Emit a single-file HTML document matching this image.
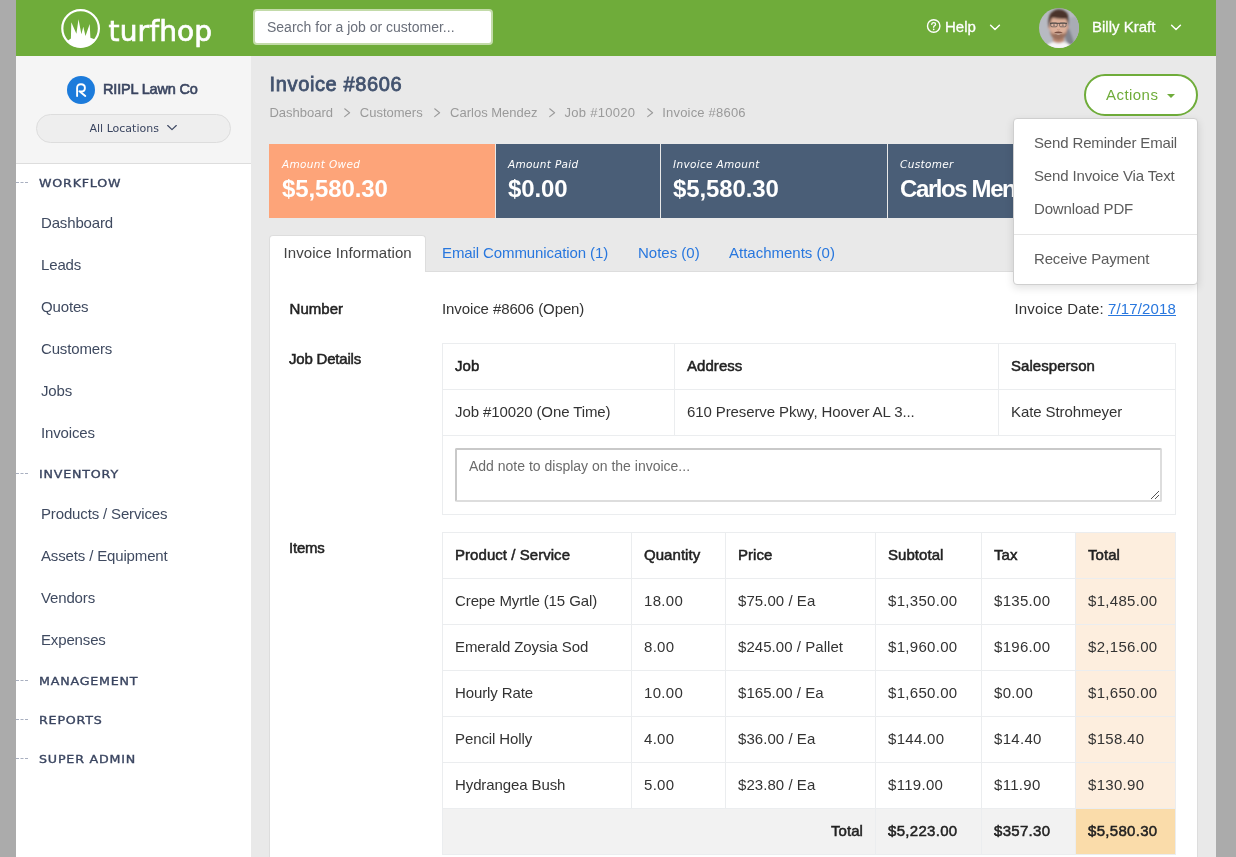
<!DOCTYPE html>
<html lang="en">
<head>
<meta charset="utf-8">
<title>Invoice #8606</title>
<style>
*{box-sizing:border-box;margin:0;padding:0}
html,body{width:1236px;height:857px;overflow:hidden;background:#ababab}
body{font-family:"Liberation Sans",sans-serif;font-size:15px;color:#333;position:relative}
.abs{position:absolute}
.t{position:absolute;white-space:nowrap;line-height:20px;height:20px}
#app{position:absolute;left:16px;top:0;width:1200px;height:857px;background:#e9e9e9;overflow:hidden}
#hdr{position:absolute;left:0;top:0;width:1200px;height:56px;background:#6fac3a}
#side{position:absolute;left:0;top:56px;width:235px;height:801px;background:#fff}
#side .top{position:absolute;left:0;top:0;width:235px;height:108px;background:#f5f5f5;border-bottom:1px solid #ddd}
.logo{font-family:"DejaVu Sans","Liberation Sans",sans-serif;font-size:28px;line-height:40px;height:40px;color:#fff;letter-spacing:0.15px;-webkit-text-stroke:0.7px #fff}
.search{left:237px;top:9px;width:240px;height:36px;background:#fff;border:2px solid #c3dba9;border-radius:4px;font-size:14px;color:#6a6f7a;line-height:32px;padding-left:12px}
.hl{color:#fff;font-size:15px;-webkit-text-stroke:0.3px #fff}
.rc{left:51px;top:20px;width:28px;height:28px;border-radius:14px;background:#1c7bdb}
.co{font-size:14.5px;color:#3a4560;-webkit-text-stroke:0.6px #3a4560;letter-spacing:-0.18px}
.pill{left:20px;top:58px;width:195px;height:29px;border-radius:15px;border:1px solid #ddd;background:#eee}
.loc{font-family:"DejaVu Sans","Liberation Sans",sans-serif;font-size:11px;color:#3a4560}
.sh{position:absolute;left:0;width:235px;height:39px;line-height:40px;padding-left:22.5px;font-family:"DejaVu Sans","Liberation Sans",sans-serif;font-size:11px;-webkit-text-stroke:0.35px #3a4560;letter-spacing:0.7px;color:#3a4560;white-space:nowrap}
.sh span{display:inline-block;transform:scaleX(1.15);transform-origin:0 50%}
.sh:before{content:"";position:absolute;left:0;top:18px;width:12px;border-top:1px dashed #a9b0c0}
.si{position:absolute;left:0;width:235px;height:42px;line-height:40px;padding-left:25px;font-size:15px;color:#3f4a60;letter-spacing:-0.15px;white-space:nowrap}
.h1{font-size:20px;color:#42526e;-webkit-text-stroke:0.8px #42526e;line-height:26px;height:26px;letter-spacing:0.63px}
.bc{font-size:13px;color:#9a9a9a}
.card{top:144px;height:74px;background:#4a5e77;color:#fff;padding:13px 0 0 12px;white-space:nowrap;overflow:hidden}
.card.or{background:#fda479;padding-left:13px}
.card em{display:block;font-family:"DejaVu Sans","Liberation Sans",sans-serif;font-style:italic;font-size:10.5px;line-height:14px;letter-spacing:0.33px}
.card b{display:block;font-size:24px;line-height:30px;margin-top:3px;letter-spacing:-0.1px}
.tabline{display:none}
.tab{left:253px;top:235px;width:157px;height:37px;z-index:2;background:#fff;border:1px solid #ddd;border-bottom:0;border-radius:4px 4px 0 0;color:#444;line-height:34px;padding-left:13.5px;letter-spacing:0.08px;white-space:nowrap}
.tl{color:#2877de}
.panel{left:253px;top:271px;width:929px;height:600px;background:#fff;border:1px solid #ddd}
.lb{color:#222;-webkit-text-stroke:0.5px #222;letter-spacing:-0.2px;font-size:15px}
.panel a{color:#2877de;text-decoration:underline}
table.tb{position:absolute;border-collapse:collapse;table-layout:fixed;width:733px}
.tb th,.tb td{border:1px solid #ebedef;height:46px;padding:0 0 2px 12px;text-align:left;vertical-align:middle;white-space:nowrap;color:#333;font-size:15px;letter-spacing:-0.1px}
.tb th{color:#222;font-weight:normal;-webkit-text-stroke:0.5px #222;letter-spacing:0.05px}
.tb td.n,.tb th.n{letter-spacing:0.3px}
.tb td.p{letter-spacing:0.05px}
.tb td.nt{height:79px;padding:0;vertical-align:top}
.ta{position:relative;margin:12px 0 0 12px;width:707px;height:54px;border:2px solid #c9c9c9;border-right-color:#ddd;border-bottom-color:#ddd;border-radius:2px;font-size:14px;color:#6b6b6b;padding:7px 0 0 12px;line-height:18px;letter-spacing:0}
.ta svg{position:absolute;right:0px;bottom:0px}
.tb .to{background:#fdeede}
.tb .ft th{background:#f2f2f2;padding-right:12px}
.tb .ft th.gt{background:#fadcaa}
.btn{left:1068px;top:74px;width:114px;height:42px;border:2px solid #6fac3a;border-radius:21px;background:#fff;color:#6fac3a;font-size:15px;letter-spacing:0.45px;line-height:37px;padding-left:20px;white-space:nowrap}
.btn i{position:absolute;left:81px;top:18px;border-left:4.5px solid transparent;border-right:4.5px solid transparent;border-top:4.5px solid #6fac3a}
.dd{left:997px;top:118px;width:185px;height:167px;background:#fff;border:1px solid #cfcfcf;border-radius:4px;box-shadow:0 3px 8px rgba(0,0,0,.12);color:#5c5c5c;letter-spacing:-0.15px}
</style>
</head>
<body>
<div id="app">
  <div id="hdr">
    <svg class="abs" style="left:0;top:0" width="240" height="56" viewBox="16 0 240 56">
      <circle cx="80.6" cy="28.5" r="18.3" fill="none" stroke="#fff" stroke-width="2.2"/>
      <path d="M66.7 41.46 L70.9 38.6 L71.3 22.2 L76.4 33.8 L78.5 19.3 L81.4 34.3 L83.3 26.8 L85.5 36.1 L89.7 23.9 L90.4 37.8 L95.97 39.67 A19 19 0 0 1 66.7 41.46 Z" fill="#fff"/>
    </svg>
    <div class="t logo" style="left:92.5px;top:12px">turfhop</div>
    <div class="abs search"><span>Search for a job or customer...</span></div>
    <svg class="abs" style="left:910px;top:18px" width="16" height="16" viewBox="0 0 16 16">
      <circle cx="7.7" cy="8" r="6.2" fill="none" stroke="#fff" stroke-width="1.4"/>
      <path d="M5.7 6.4 Q5.8 4.6 7.7 4.6 Q9.6 4.6 9.6 6.2 Q9.6 7.2 8.5 7.8 Q7.7 8.3 7.7 9.3" fill="none" stroke="#fff" stroke-width="1.3" stroke-linecap="round"/>
      <circle cx="7.7" cy="11.3" r="0.85" fill="#fff"/>
    </svg>
    <div class="t hl" style="left:929px;top:17px">Help</div>
    <svg class="abs" style="left:973px;top:23px" width="12" height="8" viewBox="0 0 12 8"><path d="M1.6 2.3 L6 6.5 L10.4 2.3" fill="none" stroke="#fff" stroke-width="1.5" stroke-linecap="round" stroke-linejoin="round"/></svg>
    <svg class="abs" style="left:1023px;top:8px" width="40" height="40" viewBox="0 0 40 40">
      <defs><clipPath id="avc"><circle cx="20" cy="20" r="20"/></clipPath><filter id="bl" x="-20%" y="-20%" width="140%" height="140%"><feGaussianBlur stdDeviation="0.8"/></filter><filter id="bl2" x="-20%" y="-20%" width="140%" height="140%"><feGaussianBlur stdDeviation="0.5"/></filter></defs>
      <g clip-path="url(#avc)">
        <rect width="40" height="40" fill="#b7bac2"/>
        <g filter="url(#bl)">
          <path d="M29 10 L41 8 L41 40 L31 40 Z" fill="#a9acb5"/>
          <path d="M27.5 16 Q31 22 33.5 30 L36 38 L29 36 L26 30 Z" fill="#80838d"/>
          <path d="M4 42 Q8 33.4 19.5 33.4 Q31 33.4 35 42 Z" fill="#f6f6f6"/>
          <path d="M14.4 27 L24.6 27 L25.2 33.6 Q19.5 37 13.8 33.6 Z" fill="#c08d76"/>
          <ellipse cx="19.4" cy="20" rx="8.9" ry="11.4" fill="#ddb09a"/>
          <rect x="10.6" y="8" width="17.7" height="12" fill="#ddb09a"/>
          <ellipse cx="10.3" cy="19" rx="1.2" ry="2.2" fill="#cf9d88"/>
          <ellipse cx="28.5" cy="19" rx="1.2" ry="2.2" fill="#cf9d88"/>
          <path d="M10.8 21.5 Q11.4 32 19.4 32.2 Q27.4 32 28 21.5 Q26.4 26.4 23 25.6 Q19.4 24.2 15.8 25.6 Q12.4 26.4 10.8 21.5 Z" fill="#9a705d"/>
          <path d="M9.8 19 Q7.6 6 15 2.4 Q22 -0.6 27.8 4.4 Q31 8.6 29 19 Q28.8 13.4 27.2 10.8 Q20 11.2 13.4 9.8 Q11 12.4 10.9 19 Z" fill="#49332a"/>
        </g>
        <g filter="url(#bl2)" opacity="0.85">
          <path d="M15 24.8 Q19.4 22.2 23.8 24.8 Q19.4 25.8 15 24.8 Z" fill="#6a4135"/>
          <path d="M16 25.2 Q19.4 28 22.8 25.2 Q19.4 26.2 16 25.2 Z" fill="#f1e4e0"/>
          <path d="M11 15.3 L28 15.3" stroke="#2d2d2f" stroke-width="1"/>
          <rect x="11.8" y="14.9" width="6.4" height="3.9" rx="1.2" fill="rgba(255,255,255,0.10)" stroke="#3a3a3c" stroke-width="0.7"/>
          <rect x="20.6" y="14.9" width="6.4" height="3.9" rx="1.2" fill="rgba(255,255,255,0.10)" stroke="#3a3a3c" stroke-width="0.7"/>
          <ellipse cx="15" cy="17" rx="1.1" ry="0.6" fill="#4a3a36"/>
          <ellipse cx="23.8" cy="17" rx="1.1" ry="0.6" fill="#4a3a36"/>
          <path d="M18.2 21.6 Q19.4 22.5 20.6 21.6" stroke="#b98672" stroke-width="0.8" fill="none"/>
        </g>
      </g>
    </svg>
    <div class="t hl" style="left:1076px;top:17px">Billy Kraft</div>
    <svg class="abs" style="left:1154px;top:23px" width="12" height="8" viewBox="0 0 12 8"><path d="M1.6 2.3 L6 6.5 L10.4 2.3" fill="none" stroke="#fff" stroke-width="1.5" stroke-linecap="round" stroke-linejoin="round"/></svg>
  </div>
  <div id="side"><div class="top"></div>
    <div class="abs rc"></div>
    <svg class="abs" style="left:58px;top:25px" width="16" height="18" viewBox="0 0 16 18"><path d="M3.1 15 V7.2 Q3.1 3.2 7 3.2 Q10.9 3.2 10.9 6.9 Q10.9 10.5 7 10.5 Q5.9 10.5 5.4 10.3 L11.3 15" fill="none" stroke="#fff" stroke-width="1.9" stroke-linecap="round" stroke-linejoin="round"/></svg>
    <div class="t co" style="left:87px;top:23px">RIIPL Lawn Co</div>
    <div class="abs pill"></div>
    <div class="t loc" style="left:73.5px;top:63px">All Locations</div>
    <svg class="abs" style="left:150px;top:68px" width="12" height="8" viewBox="0 0 12 8"><path d="M1.7 1.5 L6 5.7 L10.3 1.5" fill="none" stroke="#3a4560" stroke-width="1.1" stroke-linecap="round" stroke-linejoin="round"/></svg>
    <div class="sh" style="top:108px"><span>WORKFLOW</span></div>
    <div class="si" style="top:147px">Dashboard</div>
    <div class="si" style="top:189px">Leads</div>
    <div class="si" style="top:231px">Quotes</div>
    <div class="si" style="top:273px">Customers</div>
    <div class="si" style="top:315px">Jobs</div>
    <div class="si" style="top:357px">Invoices</div>
    <div class="sh" style="top:399px"><span>INVENTORY</span></div>
    <div class="si" style="top:438px">Products / Services</div>
    <div class="si" style="top:480px">Assets / Equipment</div>
    <div class="si" style="top:522px">Vendors</div>
    <div class="si" style="top:564px">Expenses</div>
    <div class="sh" style="top:606px"><span>MANAGEMENT</span></div>
    <div class="sh" style="top:645px"><span>REPORTS</span></div>
    <div class="sh" style="top:684px"><span>SUPER ADMIN</span></div>
  </div>
  <div id="main">
    <div class="t h1" style="left:253.6px;top:71px">Invoice #8606</div>
    <div class="t bc" style="left:253.4px;top:103px">Dashboard</div><svg class="abs" style="left:328px;top:108px" width="7" height="10" viewBox="0 0 7 10"><path d="M0.7 0.8 L5.6 4.7 L0.7 8.6" fill="none" stroke="#9a9a9a" stroke-width="1.1" stroke-linecap="round" stroke-linejoin="round"/></svg>
    <div class="t bc" style="left:343.8px;top:103px">Customers</div><svg class="abs" style="left:418.4px;top:108px" width="7" height="10" viewBox="0 0 7 10"><path d="M0.7 0.8 L5.6 4.7 L0.7 8.6" fill="none" stroke="#9a9a9a" stroke-width="1.1" stroke-linecap="round" stroke-linejoin="round"/></svg>
    <div class="t bc" style="left:434.1px;top:103px">Carlos Mendez</div><svg class="abs" style="left:532.7px;top:108px" width="7" height="10" viewBox="0 0 7 10"><path d="M0.7 0.8 L5.6 4.7 L0.7 8.6" fill="none" stroke="#9a9a9a" stroke-width="1.1" stroke-linecap="round" stroke-linejoin="round"/></svg>
    <div class="t bc" style="left:548.4px;top:103px;letter-spacing:0.3px">Job #10020</div><svg class="abs" style="left:630.5px;top:108px" width="7" height="10" viewBox="0 0 7 10"><path d="M0.7 0.8 L5.6 4.7 L0.7 8.6" fill="none" stroke="#9a9a9a" stroke-width="1.1" stroke-linecap="round" stroke-linejoin="round"/></svg>
    <div class="t bc" style="left:646.2px;top:103px;letter-spacing:0.2px">Invoice #8606</div>
    <div class="abs card or" style="left:253px;width:226px"><em>Amount Owed</em><b>$5,580.30</b></div>
    <div class="abs card" style="left:480px;width:164px"><em>Amount Paid</em><b>$0.00</b></div>
    <div class="abs card" style="left:645px;width:226px"><em>Invoice Amount</em><b>$5,580.30</b></div>
    <div class="abs card" style="left:872px;width:309px"><em>Customer</em><b style="letter-spacing:-1.4px">Carlos Mendez</b></div>
    <div class="abs tabline"></div>
    <div class="abs tab"><span>Invoice Information</span></div>
    <div class="t tl" style="left:426px;top:243px;letter-spacing:-0.1px">Email Communication (1)</div>
    <div class="t tl" style="left:622px;top:243px">Notes (0)</div>
    <div class="t tl" style="left:713px;top:243px">Attachments (0)</div>
    <div class="abs panel">
      <div class="t lb" style="left:19.5px;top:27px;letter-spacing:0.05px">Number</div>
      <div class="t" style="left:172px;top:27px;letter-spacing:-0.1px">Invoice #8606 (Open)</div>
      <div class="t" style="right:21px;top:27px;letter-spacing:0.13px">Invoice Date: <a>7/17/2018</a></div>
      <div class="t lb" style="left:19px;top:77px">Job Details</div>
      <table class="tb" style="left:172px;top:71px">
        <colgroup><col style="width:232px"><col style="width:324px"><col style="width:177px"></colgroup>
        <tr><th>Job</th><th>Address</th><th>Salesperson</th></tr>
        <tr><td>Job #10020 (One Time)</td><td>610 Preserve Pkwy, Hoover AL 3...</td><td>Kate Strohmeyer</td></tr>
        <tr><td colspan="3" class="nt"><div class="ta"><span>Add note to display on the invoice...</span><svg width="10" height="10" viewBox="0 0 10 10"><path d="M9 1 L1 9 M9 5 L5 9" stroke="#555" stroke-width="1" fill="none"/></svg></div></td></tr>
      </table>
      <div class="t lb" style="left:19px;top:266px">Items</div>
      <table class="tb it" style="left:172px;top:260px">
        <colgroup><col style="width:189px"><col style="width:94px"><col style="width:150px"><col style="width:106px"><col style="width:94px"><col style="width:100px"></colgroup>
        <tr><th>Product / Service</th><th>Quantity</th><th>Price</th><th>Subtotal</th><th>Tax</th><th class="to">Total</th></tr>
        <tr><td>Crepe Myrtle (15 Gal)</td><td class="n">18.00</td><td class="p">$75.00 / Ea</td><td class="n">$1,350.00</td><td class="n">$135.00</td><td class="to n">$1,485.00</td></tr>
        <tr><td>Emerald Zoysia Sod</td><td class="n">8.00</td><td class="p">$245.00 / Pallet</td><td class="n">$1,960.00</td><td class="n">$196.00</td><td class="to n">$2,156.00</td></tr>
        <tr><td>Hourly Rate</td><td class="n">10.00</td><td class="p">$165.00 / Ea</td><td class="n">$1,650.00</td><td class="n">$0.00</td><td class="to n">$1,650.00</td></tr>
        <tr><td>Pencil Holly</td><td class="n">4.00</td><td class="p">$36.00 / Ea</td><td class="n">$144.00</td><td class="n">$14.40</td><td class="to n">$158.40</td></tr>
        <tr><td>Hydrangea Bush</td><td class="n">5.00</td><td class="p">$23.80 / Ea</td><td class="n">$119.00</td><td class="n">$11.90</td><td class="to n">$130.90</td></tr>
        <tr class="ft"><th colspan="3" style="text-align:right">Total</th><th class="n">$5,223.00</th><th class="n">$357.30</th><th class="gt n">$5,580.30</th></tr>
      </table>
    </div>
    <div class="abs btn"><span>Actions</span><i></i></div>
    <div class="abs dd">
      <div class="t" style="left:20px;top:14px">Send Reminder Email</div>
      <div class="t" style="left:20px;top:47px">Send Invoice Via Text</div>
      <div class="t" style="left:20px;top:80px">Download PDF</div>
      <div class="abs" style="left:0;top:115px;width:183px;height:1px;background:#e5e5e5"></div>
      <div class="t" style="left:20px;top:130px">Receive Payment</div>
    </div>
  </div>
</div>
</body>
</html>
